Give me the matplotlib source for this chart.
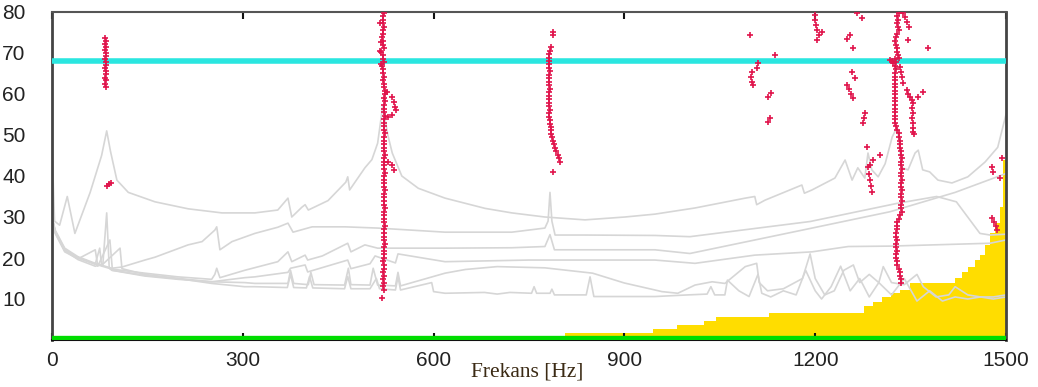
import matplotlib
matplotlib.use("Agg")
import matplotlib.pyplot as plt

# ---------------- data ----------------
# grey response curves: (frequency Hz, value)
curveA_f = [0, 4, 12, 24, 36, 60, 78, 86, 92, 102, 120, 162, 214, 267, 319, 355, 371, 377, 393, 398, 403,
            434, 462, 465, 468, 492, 503, 512, 520, 528, 535, 550, 576, 618, 681, 723, 775, 838, 901, 948,
            1011, 1090, 1105, 1108, 1121, 1179, 1183, 1195, 1231, 1247, 1258, 1267, 1278, 1283, 1289, 1299,
            1310, 1321, 1329, 1336, 1346, 1357, 1362, 1369, 1380, 1393, 1415, 1440, 1467, 1487, 1500]
curveA_v = [47, 29, 28, 35, 26, 36, 45, 51, 46, 39, 36, 33.7, 32, 31, 31, 31.7, 34.6, 30, 32.4, 33, 31.7,
            34, 38.5, 39.8, 36.6, 42, 44, 48, 57, 50, 45.6, 40, 37, 34.6, 32.1, 31, 30, 29.3, 30, 30.7,
            32.2, 34.6, 35, 33, 34.1, 37.8, 35.8, 36.6, 39.5, 43.9, 39, 42, 39.5, 45.6, 41.5, 39.8,
            43, 49.5, 52, 42, 41.5, 45.6, 46.3, 41.5, 41, 39, 38.3, 39.8, 43.4, 47, 55]

curveB_f = [0, 5, 20, 41, 68, 94, 110, 146, 162, 214, 236, 256, 259, 264, 283, 319, 355, 371, 379, 409,
            461, 512, 618, 723, 775, 780, 783, 786, 791, 838, 948, 1003, 1192, 1328, 1391, 1422, 1459, 1475, 1500]
curveB_v = [30, 26.8, 22.4, 20.3, 18.7, 17.5, 17.8, 19.5, 20.2, 23.2, 24, 26.8, 27.6, 22, 24, 26, 27.5,
            28.5, 26.3, 27.6, 27.6, 27.3, 26.3, 26.3, 27.3, 29, 36, 29, 25.6, 25.6, 25.5, 25.2, 28.9, 33.3,
            35, 33.7, 26, 25.6, 25.8]

curveC_f = [0, 5, 20, 41, 68, 94, 146, 198, 251, 256, 259, 264, 303, 355, 371, 377, 398, 402, 425, 465,
            470, 492, 512, 618, 723, 775, 783, 790, 948, 1003, 1192, 1318, 1420, 1500]
curveC_v = [30, 26.5, 22, 20, 18.5, 17.3, 16.3, 15.4, 14.8, 16, 17.5, 15.2, 17, 19.1, 21.5, 19.1, 20.7,
            19.5, 20.5, 23.6, 21.5, 23.2, 22.4, 22.4, 22.5, 22.8, 25.7, 22, 22, 21.1, 27.2, 31.3, 36, 40.6]

curveD_f = [0, 5, 20, 41, 68, 80, 86, 90, 94, 146, 198, 251, 303, 319, 371, 375, 398, 402, 465, 470,
            500, 508, 540, 544, 618, 750, 948, 1011, 1105, 1195, 1252, 1318, 1475, 1500]
curveD_v = [30, 26.2, 21.8, 19.6, 18, 18.5, 31, 17.5, 17, 15.6, 14.8, 14.2, 15.2, 15.4, 16.5, 17.5, 18.3,
            16.6, 19.5, 17.4, 18.6, 20.5, 18.8, 21, 19.1, 19.5, 19.5, 18.7, 20.7, 21.5, 22.8, 22.9, 23.6, 24.4]

curveE_f = [0, 5, 20, 41, 68, 72, 91, 95, 146, 198, 251, 303, 319, 371, 375, 380, 403, 407, 412, 460,
            466, 470, 500, 505, 512, 540, 544, 548, 618, 650, 700, 775, 850, 900, 948, 959, 984, 1011,
            1038, 1058, 1090, 1108, 1112, 1125, 1150, 1180, 1192, 1200, 1215, 1230, 1245, 1260, 1270,
            1285, 1300, 1307, 1320, 1340, 1360, 1370, 1390, 1410, 1420, 1440, 1460, 1480, 1500]
curveE_v = [30, 26, 21.5, 19.8, 22, 18, 24.4, 17, 15.8, 15, 14.2, 14, 13.8, 13.8, 17, 13.8, 13.5, 16.5,
            13.5, 13.4, 17.5, 13.5, 13.4, 17.5, 13.4, 13.2, 16.5, 13.2, 16.3, 17.2, 17.9, 17.6, 16.3, 13.9,
            12.2, 11.8, 11.4, 13.4, 14.2, 13.8, 17.9, 18.7, 14, 12, 12.5, 15, 21, 15, 11, 12, 17, 18.3, 14,
            16, 14, 17.9, 14, 13.5, 16, 13, 10.5, 11, 13, 11, 10.5, 10.5, 11]

curveF_f = [0, 5, 20, 41, 68, 75, 78, 107, 110, 146, 198, 251, 303, 319, 370, 375, 380, 400, 405, 410,
            460, 465, 470, 500, 510, 515, 540, 544, 548, 597, 600, 618, 680, 700, 720, 754, 758, 762, 783,
            786, 790, 840, 846, 852, 948, 1000, 1030, 1036, 1042, 1058, 1062, 1080, 1096, 1110, 1116, 1130,
            1150, 1170, 1185, 1200, 1210, 1225, 1240, 1255, 1270, 1285, 1300, 1320, 1340, 1360, 1380, 1400,
            1420, 1440, 1460, 1480, 1500]
curveF_v = [30, 26.5, 22, 20, 18.5, 22.4, 18.2, 22.4, 17.4, 16, 15, 13.8, 13, 13, 12.8, 16, 12.8, 12.7,
            15.5, 12.7, 12.5, 15.5, 12.5, 12.5, 15, 12.5, 12.2, 15.4, 12.2, 14, 11.8, 11.4, 11.6, 11.2, 11.6,
            11.4, 13, 11.4, 11.4, 12.4, 11, 11, 15.4, 10.6, 10.6, 11, 11.2, 13, 11, 11, 14.6, 12, 10.6, 16,
            11.4, 10.5, 12, 11, 17, 12, 10, 13, 18, 12, 15, 10.5, 14, 11, 15, 9.5, 12, 9.5, 10.5, 10, 10.5,
            10, 10.5]

# cyan reference level
cyan_level = 68.0

# yellow step area (edges in Hz, heights)
yellow_edges = [807, 945, 983, 1025, 1044, 1127, 1277, 1291, 1305, 1319, 1333, 1349, 1420, 1431, 1440,
                1451, 1459, 1467, 1475, 1483, 1491, 1495, 1500]
yellow_vals = [1.7, 2.7, 3.6, 4.6, 5.6, 6.6, 8.3, 9.3, 10.5, 11.5, 12.2, 13.9, 15.1, 16.6, 17.8, 19.5,
               20.7, 23.2, 26.0, 28.5, 32.4, 44.0]

# red detected points, per track
t1_f = [84, 85, 84, 85, 84, 85, 85, 84, 85, 85, 84, 85, 85, 84, 85, 84, 85, 86, 90, 92]
t1_v = [73.7, 73.0, 72.3, 71.5, 70.8, 70.0, 69.3, 68.5, 67.8, 67.0, 66.3, 65.5, 64.8, 64.0, 63.3, 62.5,
        61.8, 37.6, 38.0, 38.4]

t2_v = [79.8, 79.0, 78.1, 77.2, 76.4, 75.5, 74.6, 73.8, 72.9, 72.0, 71.2, 70.3, 69.4, 68.6, 67.7, 66.8,
        66.0, 65.1, 64.2, 63.4, 62.5, 61.6, 60.8, 59.9, 59.0, 58.2, 57.3, 56.4, 55.6, 54.7, 53.8, 53.0,
        52.1, 51.2, 50.4, 49.5, 48.6, 47.8, 46.9, 46.0, 45.2, 44.3, 43.4, 42.6, 41.7, 40.8, 40.0, 39.1,
        38.2, 37.4, 36.5, 35.6, 34.8, 33.9, 33.0, 32.2, 31.3, 30.4, 29.6, 28.7, 27.8, 27.0, 26.1, 25.2,
        24.4, 23.5, 22.6, 21.8, 20.9, 20.0, 19.2, 18.3, 17.4, 16.6, 15.7, 14.8, 14.0, 13.1, 12.2, 10.2,
        77.2, 72.8, 70.5, 67.3, 60.6, 59.3, 58.1, 56.9, 56.1, 54.9, 54.5, 43.5, 42.7, 41.5]
t2_f = [522, 521, 520, 521, 522, 520, 521, 519, 521, 520, 522, 518, 520, 521, 522, 519, 520, 521, 522,
        521, 522, 522, 523, 523, 522, 523, 522, 522, 522, 523, 522, 522, 522, 522, 523, 522, 522, 522,
        522, 522, 523, 522, 522, 522, 522, 523, 522, 522, 522, 522, 523, 522, 522, 522, 522, 523, 522,
        522, 522, 522, 523, 522, 522, 522, 522, 523, 522, 522, 522, 522, 521, 522, 522, 521, 522, 521,
        522, 521, 522, 519,
        516, 517, 516, 518, 526, 534, 537, 539, 541, 534, 529, 529, 534, 537]

t3_v = [75.2, 74.4, 71.5, 70.6, 69.8, 68.9, 68.1, 67.2, 66.4, 65.5, 64.7, 63.8, 63.0, 62.1, 61.3, 60.4,
        59.6, 58.7, 57.9, 57.0, 56.2, 55.3, 54.5, 53.6, 52.8, 51.9, 51.1, 50.2, 49.4, 48.5, 47.7, 46.8,
        46.0, 45.1, 44.3, 43.5, 41.0]
t3_f = [788, 787, 784, 783, 782, 782, 781, 781, 782, 783, 782, 781, 782, 782, 783, 782, 781, 782, 782,
        782, 783, 782, 782, 783, 783, 784, 784, 785, 786, 787, 789, 791, 793, 795, 797, 799, 788]

t4_f = [1097, 1137, 1110, 1109, 1100, 1099, 1100, 1102, 1131, 1126, 1129, 1125,
        1200, 1200, 1202, 1203, 1210, 1206, 1203]
t4_v = [74.4, 69.5, 67.5, 66.3, 65.4, 64.2, 63.0, 62.2, 60.2, 59.3, 54.1, 53.2,
        79.3, 78.1, 76.9, 75.6, 75.2, 74.4, 73.2]

t5_f = [1265, 1274, 1255, 1250, 1260, 1258, 1263, 1250, 1253, 1256, 1260, 1278, 1276, 1275, 1281, 1302,
        1291, 1286, 1283, 1284, 1286, 1287, 1289]
t5_v = [79.8, 78.5, 74.4, 73.4, 71.2, 65.4, 63.9, 62.2, 61.2, 60.1, 59.0, 55.4, 54.2, 52.9, 47.0, 45.1,
        43.9, 42.7, 42.2, 40.6, 39.0, 37.5, 36.1]

t6_v = [79.8, 79.0, 78.1, 77.2, 76.4, 75.5, 74.6, 73.8, 72.9, 72.0, 71.2, 70.3, 69.4, 68.6, 67.7, 66.8,
        66.0, 65.1, 64.2, 63.4, 62.5, 61.6, 60.8, 59.9, 59.0, 58.2, 57.3, 56.4, 55.6, 54.7, 53.8, 53.0,
        52.1, 51.2, 50.4, 49.5, 48.6, 47.8, 46.9, 46.0, 45.2, 44.3, 43.4, 42.6, 41.7, 40.8, 40.0, 39.1,
        38.2, 37.4, 36.5, 35.6, 34.8, 33.9, 33.0, 32.2, 31.3, 30.4, 29.6, 28.7, 27.8, 27.0, 26.1, 25.2,
        24.4, 23.5, 22.6, 21.8, 20.9, 20.0, 19.2, 18.3, 17.4, 16.6, 15.7, 14.8, 14.0,
        68.4, 68.0, 67.6, 68.8]
t6_f = [1331, 1329, 1330, 1328, 1330, 1331, 1329, 1327, 1326, 1327, 1328, 1329, 1330, 1326, 1327, 1326,
        1327, 1326, 1325, 1326, 1326, 1325, 1326, 1326, 1325, 1326, 1326, 1326, 1325, 1326, 1326, 1326,
        1327, 1328, 1331, 1332, 1333, 1334, 1334, 1335, 1335, 1336, 1335, 1335, 1336, 1335, 1335, 1336,
        1335, 1335, 1336, 1335, 1335, 1336, 1335, 1335, 1336, 1334, 1332, 1329, 1328, 1328, 1327, 1327,
        1328, 1327, 1327, 1328, 1327, 1327, 1328, 1329, 1331, 1333, 1334, 1335, 1335,
        1318, 1321, 1323, 1332]

t7_f = [1338, 1341, 1344, 1347, 1346, 1378, 1334, 1335, 1337, 1338, 1344, 1346, 1349, 1352, 1354, 1370,
        1362, 1352, 1353, 1352, 1354, 1353, 1354, 1356]
t7_v = [79.8, 78.8, 77.6, 76.3, 73.2, 71.2, 66.6, 65.4, 64.2, 62.7, 61.0, 60.0, 59.2, 58.5, 57.8, 60.5,
        59.3, 56.6, 55.4, 54.2, 53.0, 51.8, 50.8, 50.2]

t8_f = [1494, 1478, 1480, 1491, 1478, 1481, 1484, 1486]
t8_v = [44.4, 42.2, 41.0, 39.5, 29.8, 28.9, 27.8, 26.8]

# ---------------- drawing ----------------
GREY = "#d6d6d6"
RED = "#e0144c"

fig = plt.figure(figsize=(10.38, 3.87), dpi=100)
ax = fig.add_axes([52 / 1038, 1 - 340 / 387, 954 / 1038, 328 / 387])

ax.stairs(yellow_vals, yellow_edges, fill=True, color="#ffdd00", zorder=1, lw=0)

for f, v in [(curveA_f, curveA_v), (curveB_f, curveB_v), (curveC_f, curveC_v),
             (curveD_f, curveD_v), (curveE_f, curveE_v), (curveF_f, curveF_v)]:
    ax.plot(f, v, color=GREY, lw=1.2, zorder=2)

ax.axhline(cyan_level, color="#2ae6e0", lw=4, zorder=3)
ax.axhline(0, color="#00dd00", lw=6, zorder=3)

for f, v in [(t1_f, t1_v), (t2_f, t2_v), (t3_f, t3_v), (t4_f, t4_v), (t5_f, t5_v),
             (t6_f, t6_v), (t7_f, t7_v), (t8_f, t8_v)]:
    ax.plot(f, v, linestyle="none", marker="+", ms=4.5, mew=1.2, color=RED, zorder=4)

ax.set_xlim(0, 1500)
ax.set_ylim(0, 80)
ax.set_xticks([0, 300, 600, 900, 1200, 1500])
ax.set_yticks([10, 20, 30, 40, 50, 60, 70, 80])

for s in ["left", "right"]:
    ax.spines[s].set_color("#444444")
    ax.spines[s].set_linewidth(2)
ax.spines["top"].set_color("#555555")
ax.spines["top"].set_linewidth(1.5)
ax.spines["bottom"].set_color("#111111")
ax.spines["bottom"].set_linewidth(1.5)

ax.tick_params(axis="x", direction="in", length=5, width=1.5, color="#111111", top=True,
               pad=8, labelsize=15, labelcolor="#222222")
ax.tick_params(axis="y", length=0, pad=19, labelsize=15, labelcolor="#222222")
for lab in ax.get_xticklabels() + ax.get_yticklabels():
    lab.set_fontfamily("Liberation Sans")

fig.text(527 / 1038, 1 - 372 / 387, "Frekans [Hz]", ha="center", va="center",
         fontsize=15.5, family="Liberation Serif", color="#3b2a14")

fig.savefig("out.png", dpi=100)
